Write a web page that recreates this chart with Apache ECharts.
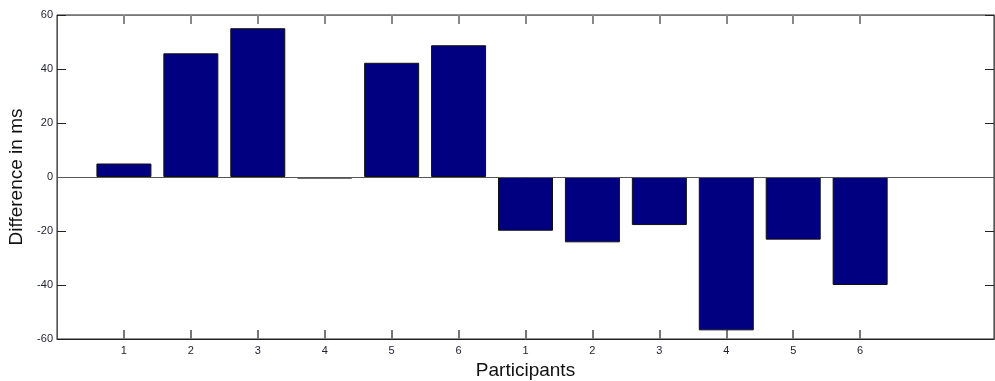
<!DOCTYPE html>
<html>
<head>
<meta charset="utf-8">
<script src="https://cdn.jsdelivr.net/npm/echarts@6/dist/echarts.min.js"></script>
<style>
  html, body { margin: 0; padding: 0; background: #fff; }
  #chart { width: 995px; height: 381px; }
</style>
</head>
<body>
<div id="chart"></div>
<script>
  // participant labels (two groups of six) and their x positions
  var categories = ['1', '2', '3', '4', '5', '6', '1', '2', '3', '4', '5', '6'];
  var positions = [1, 2, 3, 4, 5, 6, 7, 8, 9, 10, 11, 12];
  var differences = [5.0, 45.8, 55.1, -0.6, 42.3, 48.8, -19.9, -24.2, -17.8, -56.8, -23.2, -40.0];

  var chart = echarts.init(document.getElementById('chart'));

  var barData = positions.map(function (p, i) { return [p, differences[i]]; });

  var labelFont = { fontFamily: 'Liberation Sans', fontSize: 11, color: '#1e1e30' };

  var option = {
    animation: false,
    grid: {
      show: true, left: 57, right: 1, top: 15, bottom: 42,
      outerBoundsMode: 'none', containLabel: false,
      borderColor: '#222', borderWidth: 1, backgroundColor: '#fff'
    },
    xAxis: [
      {
        type: 'value', min: 0, max: 14, interval: 1, position: 'bottom',
        name: 'Participants', nameLocation: 'middle', nameGap: 22,
        nameTextStyle: { fontFamily: 'Liberation Sans', fontSize: 19, color: '#111' },
        splitLine: { show: false },
        axisLine: { show: true, onZero: false, lineStyle: { color: '#222' } },
        axisTick: { show: true, inside: true, length: 9, customValues: positions, lineStyle: { color: '#777', width: 2 } },
        axisLabel: Object.assign({ margin: 6, customValues: positions, formatter: function (v) {
          var i = positions.indexOf(v); return i >= 0 ? categories[i] : '';
        } }, labelFont)
      },
      {
        type: 'value', min: 0, max: 14, interval: 1, position: 'top',
        splitLine: { show: false },
        axisLine: { show: true, onZero: false, lineStyle: { color: '#777', width: 1 } },
        axisTick: { show: true, inside: true, length: 9, customValues: positions, lineStyle: { color: '#888', width: 2 } },
        axisLabel: { show: false }
      }
    ],
    yAxis: [
      {
        type: 'value', min: -60, max: 60, interval: 20, position: 'left',
        name: 'Difference in ms', nameLocation: 'middle', nameGap: 29,
        nameTextStyle: { fontFamily: 'Liberation Sans', fontSize: 19, color: '#111' },
        splitLine: { show: false },
        axisLine: { show: true, onZero: false, lineStyle: { color: '#555' } },
        axisTick: { show: true, inside: true, length: 9, lineStyle: { color: '#222' } },
        axisLabel: Object.assign({ margin: 4 }, labelFont)
      },
      {
        type: 'value', min: -60, max: 60, interval: 20, position: 'right',
        splitLine: { show: false },
        axisLine: { show: true, onZero: false, lineStyle: { color: '#555' } },
        axisTick: { show: true, inside: true, length: 9, lineStyle: { color: '#222' } },
        axisLabel: { show: false }
      }
    ],
    series: [
      {
        type: 'bar',
        data: barData,
        barWidth: 55,
        itemStyle: { color: '#000080', borderColor: '#111', borderWidth: 1 },
        markLine: {
          silent: true, symbol: 'none', label: { show: false },
          lineStyle: { color: '#555', width: 1, type: 'solid' },
          data: [{ yAxis: 0 }]
        }
      }
    ]
  };

  chart.setOption(option);
</script>
</body>
</html>
